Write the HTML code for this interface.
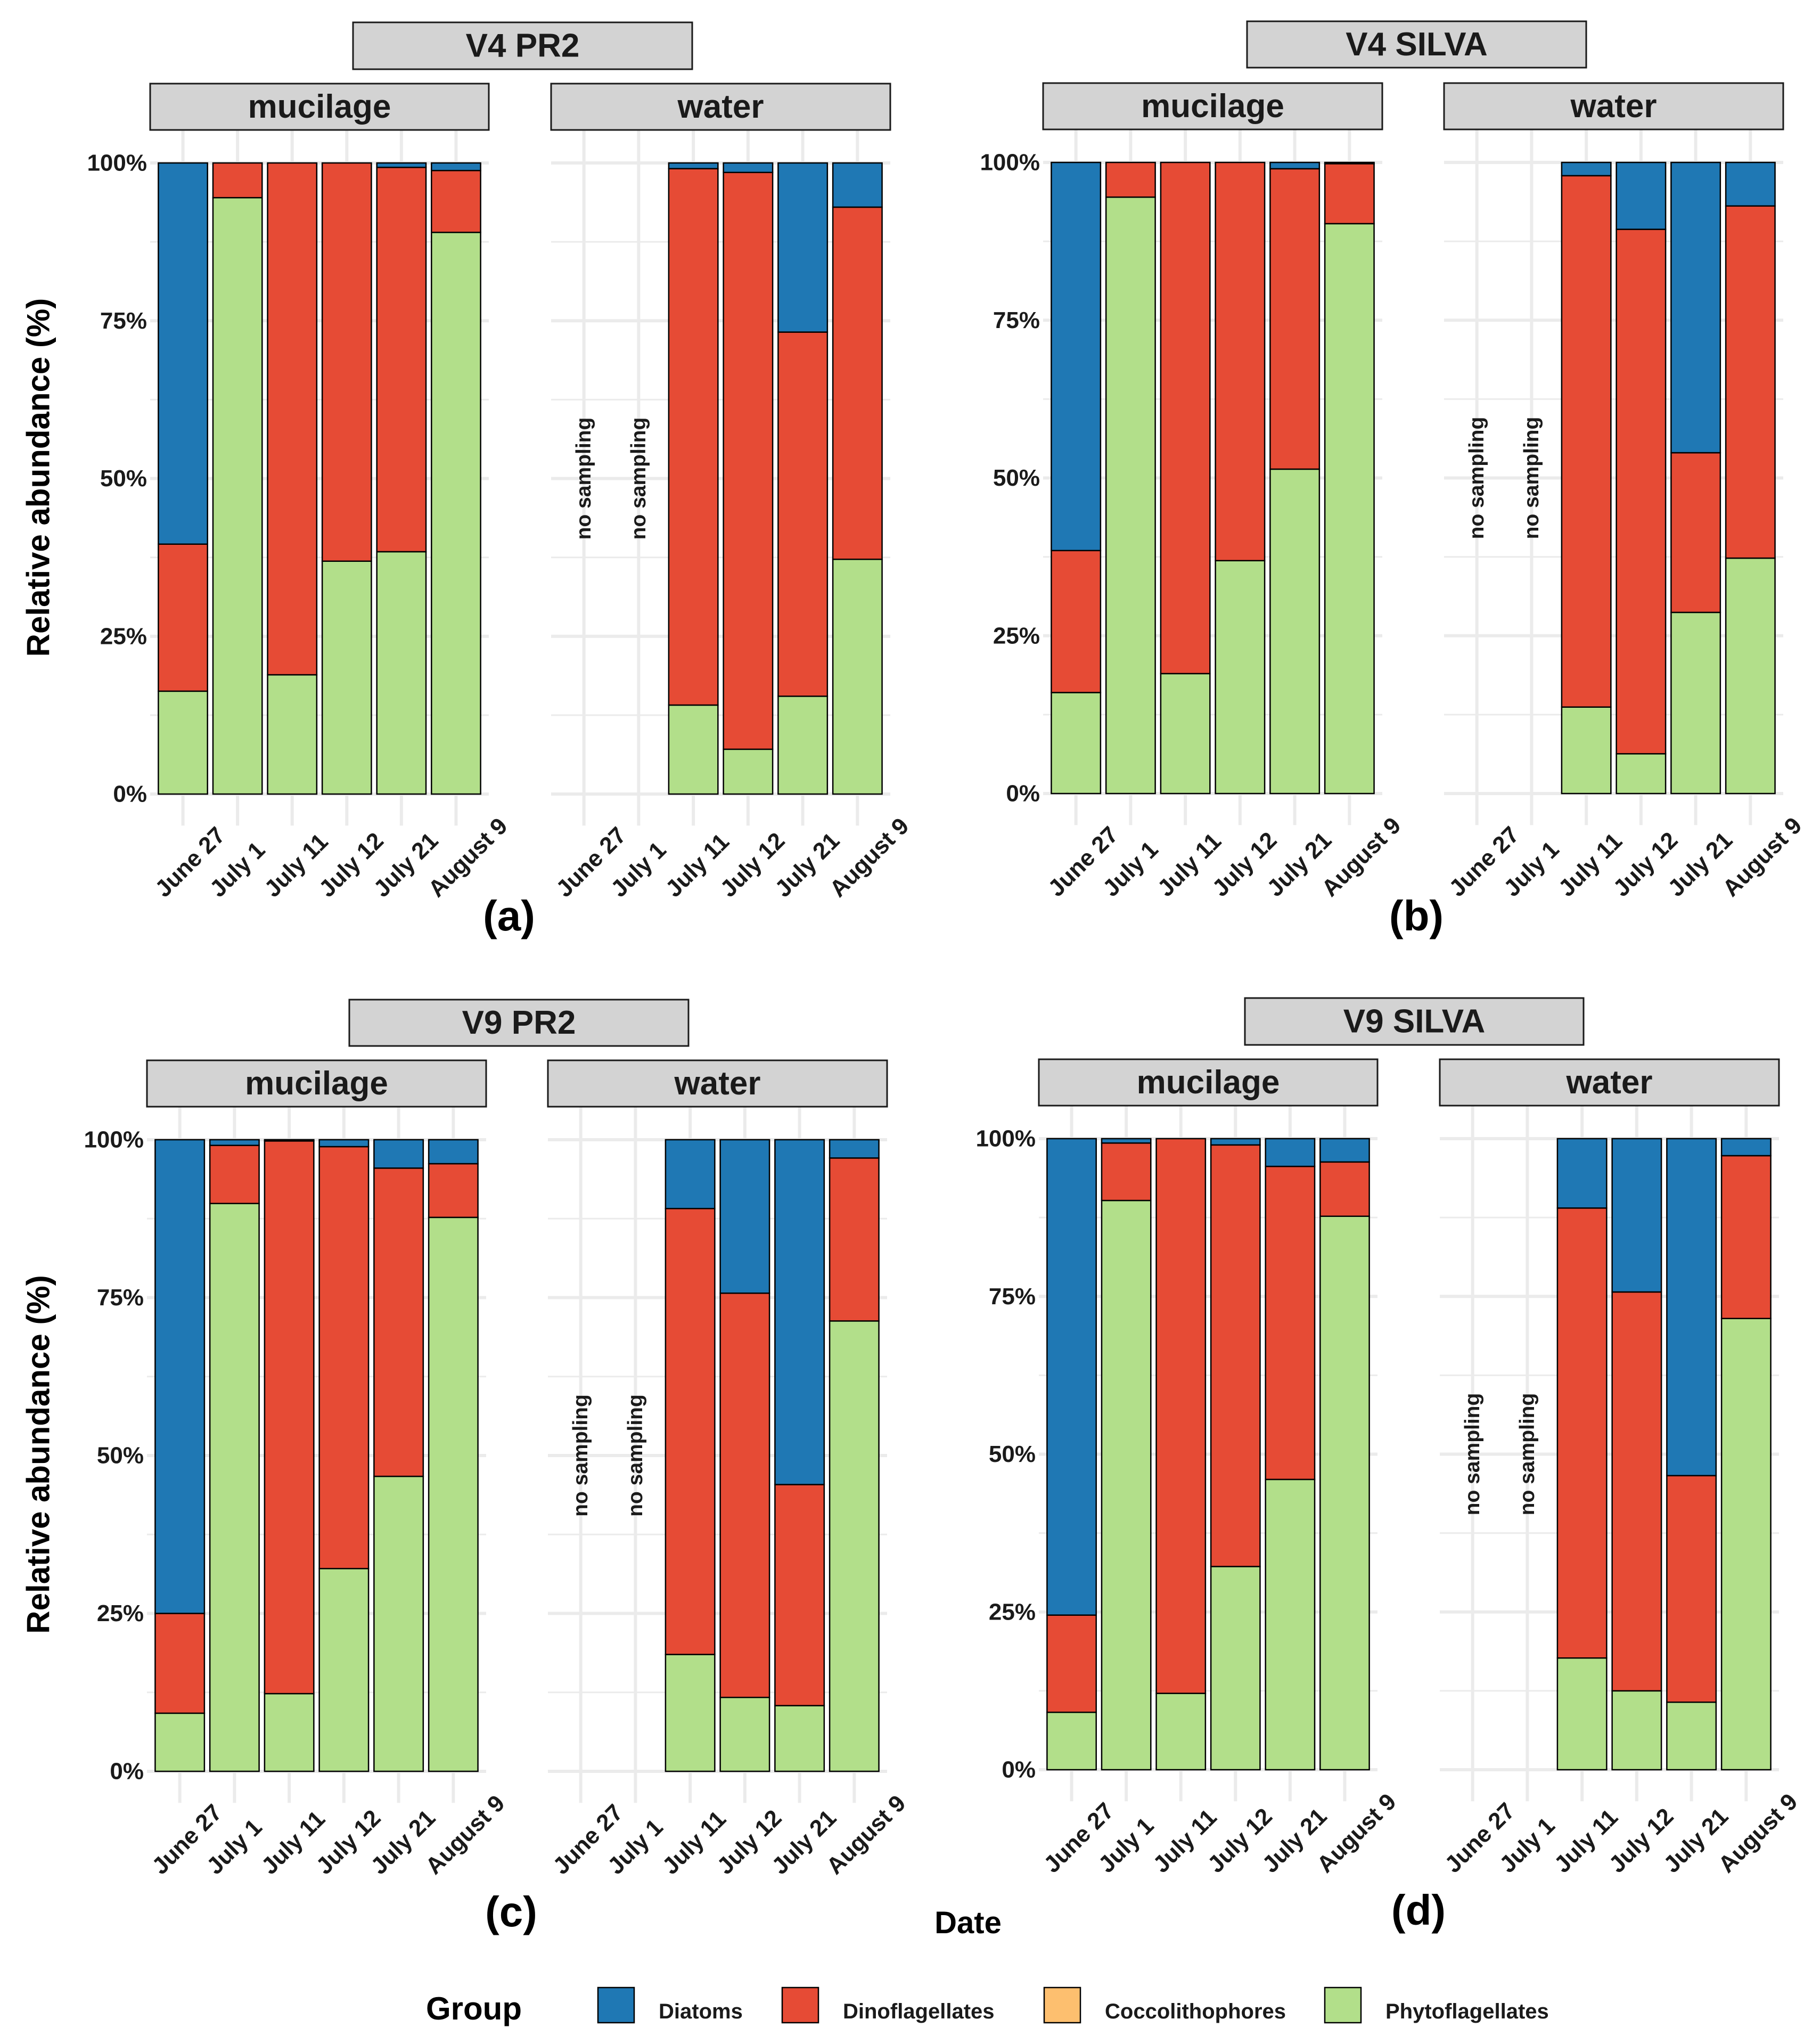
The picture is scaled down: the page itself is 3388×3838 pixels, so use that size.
<!DOCTYPE html>
<html><head><meta charset="utf-8">
<style>
html,body{margin:0;padding:0;background:#fff;}
svg{display:block;font-family:"Liberation Sans",Arial,sans-serif;font-weight:bold;}
</style></head>
<body>
<svg id="chart" xmlns="http://www.w3.org/2000/svg" width="3388" height="3838" viewBox="0 0 3388 3838">
<rect x="0" y="0" width="3388" height="3838" fill="#fff"/>
<g id="root"></g>
</svg>
<script>
// ---- data (percent of reads; segment sizes, stacked bottom→top: Phytoflagellates, Coccolithophores, Dinoflagellates, Diatoms) ----
const dates = ["June 27","July 1","July 11","July 12","July 21","August 9"];
const groups = ["Diatoms","Dinoflagellates","Coccolithophores","Phytoflagellates"];
const yTicks = [0,25,50,75,100];
const yTickLabels = ["0%","25%","50%","75%","100%"];

// Panel (a) V4 PR2
const aMucPhyto = [16.3,94.5,18.9,36.9,38.4,89.0];
const aMucCocco = [0,0,0,0,0,0];
const aMucDino  = [23.3,5.5,81.1,63.1,60.9,9.8];
const aMucDiat  = [60.4,0,0,0,0.7,1.2];
const aWatPhyto = [null,null,14.1,7.1,15.5,37.2];
const aWatCocco = [null,null,0,0,0,0];
const aWatDino  = [null,null,85.0,91.4,57.7,55.8];
const aWatDiat  = [null,null,0.9,1.5,26.8,7.0];
// Panel (b) V4 SILVA
const bMucPhyto = [16.0,94.5,19.0,36.9,51.4,90.3];
const bMucCocco = [0,0,0,0,0,0];
const bMucDino  = [22.5,5.5,81.0,63.1,47.6,9.5];
const bMucDiat  = [61.5,0,0,0,1.0,0.2];
const bWatPhyto = [null,null,13.7,6.3,28.7,37.3];
const bWatCocco = [null,null,0,0,0,0];
const bWatDino  = [null,null,84.2,83.1,25.3,55.8];
const bWatDiat  = [null,null,2.1,10.6,46.0,6.9];
// Panel (c) V9 PR2
const cMucPhyto = [9.2,89.9,12.3,32.1,46.7,87.7];
const cMucCocco = [0,0,0,0,0,0];
const cMucDino  = [15.8,9.2,87.5,66.8,48.8,8.5];
const cMucDiat  = [75.0,0.9,0.2,1.1,4.5,3.8];
const cWatPhyto = [null,null,18.5,11.7,10.4,71.3];
const cWatCocco = [null,null,0,0,0,0];
const cWatDino  = [null,null,70.6,64.0,35.0,25.8];
const cWatDiat  = [null,null,10.9,24.3,54.6,2.9];
// Panel (d) V9 SILVA
const dMucPhyto = [9.1,90.2,12.1,32.2,46.0,87.7];
const dMucCocco = [0,0,0,0,0,0];
const dMucDino  = [15.4,9.1,87.9,66.8,49.6,8.6];
const dMucDiat  = [75.5,0.7,0,1.0,4.4,3.7];
const dWatPhyto = [null,null,17.7,12.5,10.7,71.5];
const dWatCocco = [null,null,0,0,0,0];
const dWatDino  = [null,null,71.3,63.2,35.9,25.8];
const dWatDiat  = [null,null,11.0,24.3,53.4,2.7];

const colors = {Diatoms:"#1f78b4",Dinoflagellates:"#e64b35",Coccolithophores:"#fdbf6f",Phytoflagellates:"#b2df8a"};
const NS = "http://www.w3.org/2000/svg";
const root = document.getElementById('root');
function mk(tag, attrs, parent){
  const e = document.createElementNS(NS, tag);
  for (const k in attrs) e.setAttribute(k, attrs[k]);
  (parent||root).appendChild(e);
  return e;
}

const panels = [
  {id:"a", title:"V4 PR2", outer:[663,42,1300,130], muc:[282,157,918,244], wat:[1035,157,1672,244], y100:306, y0:1491, lab:[956,1747],
   data:{mucilage:[aMucPhyto,aMucCocco,aMucDino,aMucDiat], water:[aWatPhyto,aWatCocco,aWatDino,aWatDiat]}},
  {id:"b", title:"V4 SILVA", outer:[2342,40,2979,127], muc:[1959,156,2596,243], wat:[2712,156,3349,243], y100:305, y0:1490, lab:[2660,1747],
   data:{mucilage:[bMucPhyto,bMucCocco,bMucDino,bMucDiat], water:[bWatPhyto,bWatCocco,bWatDino,bWatDiat]}},
  {id:"c", title:"V9 PR2", outer:[656,1877,1293,1964], muc:[276,1991,913,2078], wat:[1029,1991,1666,2078], y100:2140, y0:3326, lab:[960,3617],
   data:{mucilage:[cMucPhyto,cMucCocco,cMucDino,cMucDiat], water:[cWatPhyto,cWatCocco,cWatDino,cWatDiat]}},
  {id:"d", title:"V9 SILVA", outer:[2338,1874,2974,1962], muc:[1951,1989,2587,2076], wat:[2704,1989,3341,2076], y100:2138, y0:3323, lab:[2664,3614],
   data:{mucilage:[dMucPhyto,dMucCocco,dMucDino,dMucDiat], water:[dWatPhyto,dWatCocco,dWatDino,dWatDiat]}}
];
const stackOrder = ["Phytoflagellates","Coccolithophores","Dinoflagellates","Diatoms"];

function strip(box, text, name, fs){
  const g = mk('g', {});
  
  
  mk('rect', {x:box[0], y:box[1], width:box[2]-box[0], height:box[3]-box[1], fill:"#d3d3d3", stroke:"#1a1a1a", "stroke-width":3}, g);
  const t = mk('text', {x:(box[0]+box[2])/2, y:(box[1]+box[3])/2, "text-anchor":"middle", "dominant-baseline":"central", "font-size":fs, fill:"#1a1a1a"}, g);
  t.textContent = text;
}

panels.forEach(p => {
  const pg = mk('g', {});
  
  
  strip(p.outer, p.title, 'panel-title-strip-' + p.id, 62);
  const yScale = v => p.y0 - v/100*(p.y0 - p.y100);
  const span = p.y0 - p.y100;
  const panelTop = p.muc[3];
  const panelBot = p.y0 + 0.05*span;
  ["mucilage","water"].forEach((facet, fi) => {
    const box = fi===0 ? p.muc : p.wat;
    strip(box, facet, 'facet-strip-' + facet + '-' + p.id, 62);
    const L = box[0], R = box[2];
    const unit = (R-L)/6.2;
    const xScale = i => L + 0.6*unit + i*unit;
    const bw = 0.9*unit;
    const fg = mk('g', {}, pg);
    
    
    for (let k=0;k<4;k++){
      const v = 12.5 + 25*k;
      const ln = mk('line', {x1:L, x2:R, y1:yScale(v), y2:yScale(v), stroke:"#ebebeb", "stroke-width":3}, fg);
      
      
    }
    yTicks.forEach(v => {
      const ln = mk('line', {x1:L, x2:R, y1:yScale(v), y2:yScale(v), stroke:"#ebebeb", "stroke-width":6}, fg);
      
      
    });
    dates.forEach((d,i) => {
      const ln = mk('line', {x1:xScale(i), x2:xScale(i), y1:panelTop, y2:panelBot, stroke:"#ebebeb", "stroke-width":6}, fg);
      
      
    });
    if (fi===0){
      yTicks.forEach((v,k) => {
        const t = mk('text', {x:L-6, y:yScale(v), "text-anchor":"end", "dominant-baseline":"central", "font-size":44, fill:"#1a1a1a"}, fg);
        
        
        t.textContent = yTickLabels[k];
      });
    }
    const series = p.data[facet];
    dates.forEach((d,i) => {
      if (series[0][i] === null){
        const t = mk('text', {x:xScale(i), y:yScale(50), "text-anchor":"middle", "dominant-baseline":"central", "font-size":39, fill:"#1a1a1a", transform:`rotate(-90 ${xScale(i)} ${yScale(50)})`}, fg);
        
        
        t.textContent = "no sampling";
        return;
      }
      let cum = 0;
      stackOrder.forEach((grp, si) => {
        const val = series[si][i];
        if (!(val > 0)) return;
        const yTop = yScale(cum + val), yBot = yScale(cum);
        const r = mk('rect', {x:xScale(i)-bw/2, y:yTop, width:bw, height:yBot-yTop, fill:colors[grp], stroke:"#000", "stroke-width":2.5}, fg);
        
        
        cum += val;
      });
    });
    dates.forEach((d,i) => {
      const ax = xScale(i) - 34, ay = p.y0 + 196;
      const t = mk('text', {x:ax, y:ay, "text-anchor":"start", "font-size":44, fill:"#1a1a1a", transform:`rotate(-45 ${ax} ${ay})`}, fg);
      
      
      t.textContent = d;
    });
  });
  if (p.id==="a" || p.id==="c"){
    const cy = (p.y0 + p.y100)/2 - 2;
    const yt = mk('text', {x:72, y:cy, "text-anchor":"middle", "dominant-baseline":"central", "font-size":60, fill:"#000", transform:`rotate(-90 72 ${cy})`}, pg);
    
    
    yt.textContent = "Relative abundance (%)";
  }
  const lt = mk('text', {x:p.lab[0], y:p.lab[1], "text-anchor":"middle", "font-size":80, fill:"#000"}, pg);
  
  
  lt.textContent = "(" + p.id + ")";
});

const xt = mk('text', {x:1818, y:3630, "text-anchor":"middle", "font-size":58, fill:"#000"});


xt.textContent = "Date";

const lg = mk('g', {});


const lgt = mk('text', {x:800, y:3792, "font-size":60, fill:"#000"}, lg);


lgt.textContent = "Group";
const keyX = [1123,1469,1961,2488];
groups.forEach((g,i) => {
  const e = mk('g', {}, lg);
  
  
  mk('rect', {x:keyX[i], y:3732, width:68, height:66, fill:colors[g], stroke:"#000", "stroke-width":2.5}, e);
  const t = mk('text', {x:keyX[i]+114, y:3790, "font-size":40, fill:"#1a1a1a"}, e);
  t.textContent = g;
});
</script>
</body></html>
